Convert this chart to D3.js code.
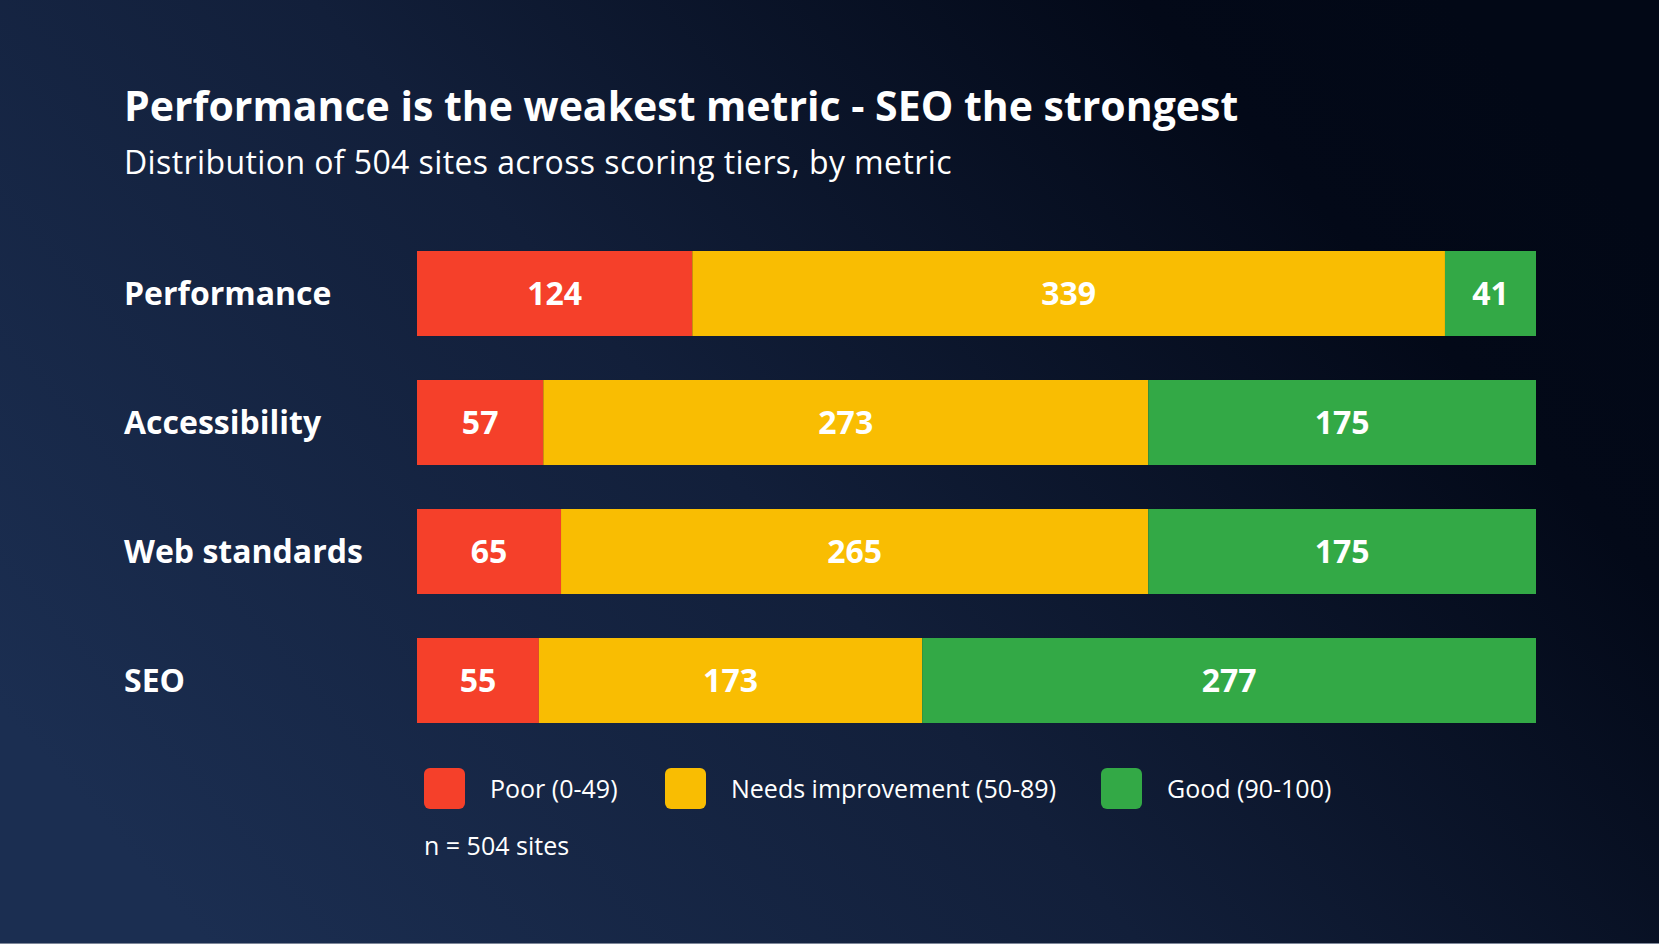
<!DOCTYPE html>
<html>
<head>
<meta charset="utf-8">
<script src="https://cdn.jsdelivr.net/npm/d3@7"></script>
<style>
  html, body { margin: 0; padding: 0; background: #0b1528; }
  svg { display: block; font-family: "Open Sans", Lato, sans-serif; }
</style>
</head>
<body>
<div id="chart"></div>
<script>
'use strict';

// data
var metrics = ['Performance', 'Accessibility', 'Web standards', 'SEO'];
var tiers = ['poor', 'needs', 'good'];
var tierLabels = ['Poor (0-49)', 'Needs improvement (50-89)', 'Good (90-100)'];
var tierColors = ['#f5402a', '#f9bd02', '#33a946'];
var poor = [124, 57, 65, 55];
var needs = [339, 273, 265, 173];
var good = [41, 175, 175, 277];

var width = 1659, height = 944;

var svg = d3.select('#chart')
    .append('svg')
    .attr('width', width)
    .attr('height', height);

// background gradient
var defs = svg.append('defs');
var grad = defs.append('linearGradient')
    .attr('id', 'bg')
    .attr('x1', '0').attr('y1', '0.75')
    .attr('x2', '1').attr('y2', '0.25');
grad.append('stop').attr('offset', '0%').attr('stop-color', '#1b2e51');
grad.append('stop').attr('offset', '45%').attr('stop-color', '#121f3a');
grad.append('stop').attr('offset', '85%').attr('stop-color', '#030918');
grad.append('stop').attr('offset', '100%').attr('stop-color', '#020816');

svg.append('rect')
    .attr('width', width)
    .attr('height', height)
    .attr('fill', 'url(#bg)');

svg.append('rect')
    .attr('y', height - 1)
    .attr('width', width)
    .attr('height', 1)
    .attr('fill', '#7d8698');

// titles
svg.append('text')
    .attr('x', 124)
    .attr('y', 121)
    .attr('fill', '#ffffff')
    .attr('font-weight', 700)
    .attr('font-size', 41)
    .text('Performance is the weakest metric - SEO the strongest');

svg.append('text')
    .attr('x', 124)
    .attr('y', 174)
    .attr('fill', '#ffffff')
    .attr('font-weight', 400)
    .attr('font-size', 32)
    .attr('letter-spacing', 0.4)
    .text('Distribution of 504 sites across scoring tiers, by metric');

// stack rows (each row shown as share of its own total)
var rows = metrics.map(function (m, i) {
  return { metric: m, poor: poor[i], needs: needs[i], good: good[i] };
});

var stack = d3.stack()
    .keys(tiers)
    .offset(d3.stackOffsetExpand);
var series = stack(rows);

var x = d3.scaleLinear()
    .domain([0, 1])
    .range([417, 1536]);

var y = d3.scaleBand()
    .domain(metrics)
    .range([229, 745])
    .paddingInner(0.341)
    .paddingOuter(0.1705);

var color = d3.scaleOrdinal()
    .domain(tiers)
    .range(tierColors);

var layers = svg.append('g')
  .selectAll('g')
  .data(series)
  .join('g')
    .attr('fill', function (s) { return color(s.key); });

layers.selectAll('rect')
  .data(function (s) { return s; })
  .join('rect')
    .attr('x', function (d) { return x(d[0]); })
    .attr('y', function (d) { return y(d.data.metric); })
    .attr('width', function (d) { return x(d[1]) - x(d[0]); })
    .attr('height', y.bandwidth());

layers.selectAll('text')
  .data(function (s) { return s.map(function (d) { return { d: d, key: s.key }; }); })
  .join('text')
    .attr('x', function (o) { return (x(o.d[0]) + x(o.d[1])) / 2; })
    .attr('y', function (o) { return y(o.d.data.metric) + y.bandwidth() / 2; })
    .attr('dy', '0.35em')
    .attr('text-anchor', 'middle')
    .attr('fill', '#ffffff')
    .attr('font-weight', 700)
    .attr('font-size', 32)
    .text(function (o) { return o.d.data[o.key]; });

// category labels
svg.append('g')
  .selectAll('text')
  .data(metrics)
  .join('text')
    .attr('x', 124)
    .attr('y', function (m) { return y(m) + y.bandwidth() / 2; })
    .attr('dy', '0.35em')
    .attr('fill', '#ffffff')
    .attr('font-weight', 700)
    .attr('font-size', 32)
    .text(function (m) { return m; });

// legend
var legendX = [424, 665, 1101];
var legend = svg.append('g')
  .selectAll('g')
  .data(tiers)
  .join('g')
    .attr('transform', function (t, i) { return 'translate(' + legendX[i] + ',768)'; });

legend.append('rect')
    .attr('width', 41)
    .attr('height', 41)
    .attr('rx', 6)
    .attr('fill', function (t) { return color(t); });

legend.append('text')
    .attr('x', 66)
    .attr('y', 21)
    .attr('dy', '0.35em')
    .attr('fill', '#ffffff')
    .attr('font-size', 25)
    .text(function (t, i) { return tierLabels[i]; });

svg.append('text')
    .attr('x', 424)
    .attr('y', 855)
    .attr('fill', '#ffffff')
    .attr('font-size', 25)
    .text('n = 504 sites');
</script>
</body>
</html>
